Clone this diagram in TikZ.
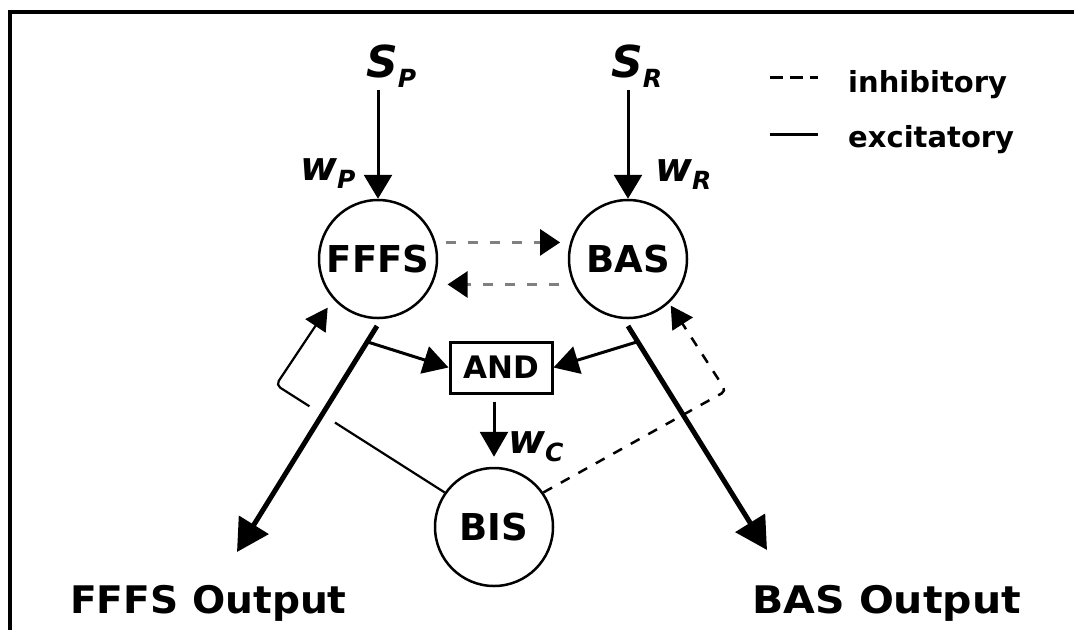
\documentclass[tikz,border=0pt]{standalone}
\usepackage{fontspec}
\setmainfont{DejaVu Sans}
\usetikzlibrary{arrows.meta,calc}
\newcommand{\bigf}{\fontsize{37}{37}\selectfont\bfseries}
\newcommand{\outf}{\fontsize{38}{38}\selectfont\bfseries}
\newcommand{\andf}{\fontsize{31}{31}\selectfont\bfseries}
\newcommand{\symf}{\fontsize{44}{44}\selectfont\bfseries\itshape}
\newcommand{\wf}{\fontsize{40}{40}\selectfont\bfseries\itshape}
\newcommand{\subf}{\fontsize{25}{25}\selectfont\bfseries\itshape}
\newcommand{\legf}{\fontsize{29}{29}\selectfont\bfseries}
\newcommand{\symb}[2]{{\symf #1}\raisebox{-10pt}{\subf #2}}
\newcommand{\wsym}[1]{{\wf w}\raisebox{-8pt}{\subf #1}}
\begin{document}
\begin{tikzpicture}[x=1pt,y=-1pt,
  unit/.style={circle,draw,line width=2.5pt,minimum size=118pt,inner sep=0pt,font=\bigf},
  gate/.style={rectangle,draw,line width=3pt,minimum width=102pt,minimum height=51pt,inner sep=0pt,font=\andf},
  txt/.style={inner sep=0pt,anchor=base west},
  inarrow/.style={line width=3pt,-{Triangle[length=24pt,width=28pt]}},
  outarrow/.style={line width=5pt,-{Triangle[length=32pt,width=34pt]}},
  andarrow/.style={line width=3pt,-{Triangle[length=25pt,width=28pt]}},
  fbarrow/.style={line width=2.2pt,rounded corners=5pt,-{Triangle[length=22pt,width=24pt]}},
  fbdash/.style={line width=2.5pt,rounded corners=5pt,dash pattern=on 10pt off 10pt,-{Triangle[length=22pt,width=24pt]}},
  inhib/.style={line width=3pt,color=black!50,dash pattern=on 10pt off 12pt,-{Triangle[length=20pt,width=26pt,color=black]}}
]
\useasboundingbox (0,0) rectangle (1074,630);
% frame
\draw[line width=4pt] (10,630) -- (10,12) -- (1074,12);

% units
\node[unit] (fffs) at (378,259) {FFFS};
\node[unit] (bas) at (628,259) {BAS};
\node[unit] (bis) at (494,527) {BIS};
\node[gate] (and) at (501,367.5) {AND};

% inputs
\node[txt] (sp) at (366,77) {\symb{S}{P}};
\node[txt] (sr) at (611,77) {\symb{S}{R}};
\node[txt] (wp) at (300,180) {\wsym{P}};
\node[txt] (wr) at (655,181) {\wsym{R}};
\node[txt] (wc) at (508,453) {\wsym{C}};
\draw[inarrow,shorten <=3pt] (sp.south -| fffs.north) -- (fffs.north);
\draw[inarrow,shorten <=3pt] (sr.south -| bas.north) -- (bas.north);

% mutual inhibition
\draw[inhib,shorten <=10pt,shorten >=10pt] (fffs.16) -- (bas.164);
\draw[inhib,shorten <=14pt,shorten >=15pt] (bas.205) -- (fffs.-25);

% outputs
\node[txt,font=\outf] (fout) at (70,613) {\scalebox{1.03}[1]{FFFS Output}};
\node[txt,font=\outf] (bout) at (752,613) {\scalebox{1.08}[1]{BAS Output}};
\coordinate (fo1) at (377,326);
\coordinate (fo2) at (237,552);
\coordinate (bo1) at (628,326);
\coordinate (bo2) at (767,550);
\coordinate (fb) at ($(fo1)!0.07!(fo2)$);
\coordinate (bb) at ($(bo1)!0.07!(bo2)$);

% feedback from BIS
\coordinate (lc) at (276,385);
\coordinate (rc) at (726,391);
\draw[fbarrow,shorten >=10pt] (bis.145) -- (lc) -- (fffs.222);
\draw[fbdash,shorten >=3pt] (bis.35) -- (rc) -- (bas.-47);
\draw[white,line width=30pt] ($(fo1)!0.33!(fo2)$) -- ($(fo1)!0.45!(fo2)$);

\draw[outarrow] (fo1) -- (fo2);
\draw[outarrow] (bo1) -- (bo2);

% AND gate
\draw[andarrow] (fb) -- (and.west);
\draw[andarrow] (bb) -- (and.east);
\draw[andarrow,shorten <=7pt,shorten >=10pt] (and.south -| bis.north) -- (bis.north);

% legend
\draw[line width=3pt,dash pattern=on 13pt off 7pt] (770,77) -- (818,77);
\draw[line width=3pt] (770,134) -- (818,134);
\node[txt,font=\legf] (inh) at (848,92) {inhibitory};
\node[txt,font=\legf] (exc) at (848,147) {excitatory};
\end{tikzpicture}
\end{document}
